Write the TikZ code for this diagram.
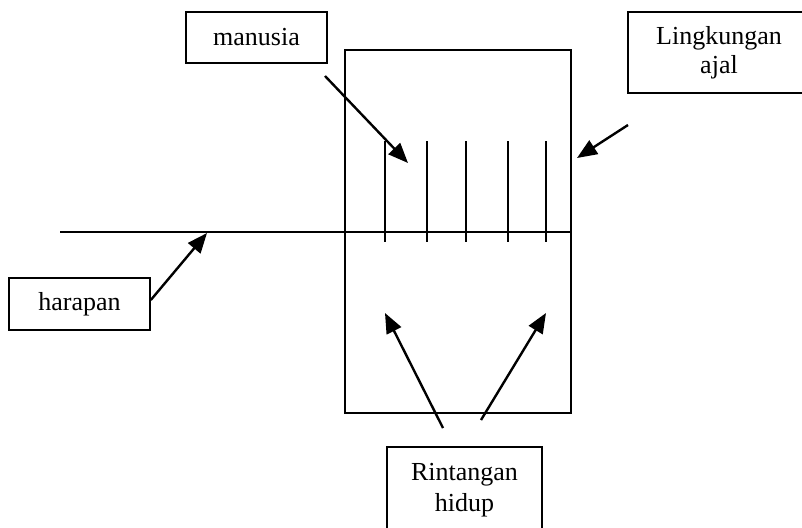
\documentclass[tikz,border=0pt]{standalone}
\usepackage{fontspec}
\setmainfont{Liberation Serif}
\usetikzlibrary{arrows.meta}
\begin{document}
\begin{tikzpicture}[x=1pt,y=-1pt,
  lbl/.style={draw,line width=1.6pt,inner sep=0pt,align=center,
    font=\fontsize{26}{29}\selectfont},
  ln/.style={line width=2.2pt},
  arr/.style={line width=2.4pt,-{Triangle[length=20pt,width=16pt]}},
]
\useasboundingbox (0,0) rectangle (802,527);
\clip (0,0) rectangle (802,527);

% label boxes
\node[lbl,minimum width=141pt,minimum height=51pt] (manusia) at (256.5,37.5) {\raisebox{-2pt}{manusia}};
\node[lbl,minimum width=141pt,minimum height=52pt] (harapan) at (79.5,304) {harapan};
\node[lbl,minimum width=182pt,minimum height=81pt] (ajal) at (719,52.5) {\raisebox{-2pt}{Lingkungan}\\\raisebox{-2pt}{ajal}};
\node[lbl,minimum width=155pt,minimum height=86pt] (rintangan) at (464.5,490) {Rintangan\\\raisebox{-2pt}{hidup}};

% the life frame
\node[draw,line width=2pt,inner sep=0pt,minimum width=226pt,minimum height=363pt] (frame) at (458,231.5) {};

% line of hope
\coordinate (hstart) at (60,232);
\draw[ln] (hstart) -- (hstart -| frame.east);

% people standing on the line
\foreach \i/\x in {1/385,2/427,3/466,4/508,5/546} {
  \coordinate (t\i) at (\x,141);
  \coordinate (b\i) at (\x,242);
  \draw[ln] (t\i) -- (b\i);
}

% pointers
\coordinate (m0) at (325,76);
\coordinate (m1) at (408,163);
\draw[arr] (m0) -- (m1);

\coordinate (h1) at (207,233);
\draw[arr] ([yshift=4pt]harapan.east) -- (h1);

\coordinate (a0) at (628,125);
\coordinate (a1) at (577,158);
\draw[arr] (a0) -- (a1);

\coordinate (r0) at (443,428);
\coordinate (r1) at (385,313);
\draw[arr] (r0) -- (r1);

\coordinate (s0) at (481,420);
\coordinate (s1) at (546,313);
\draw[arr] (s0) -- (s1);
\end{tikzpicture}
\end{document}
